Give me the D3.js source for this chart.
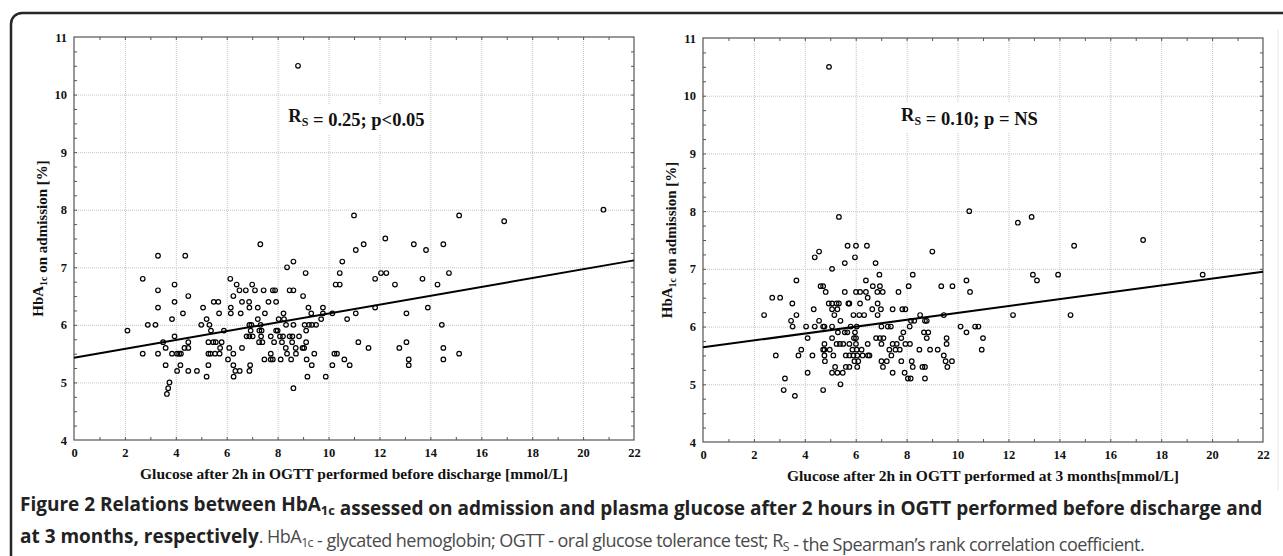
<!DOCTYPE html>
<html>
<head>
<meta charset="utf-8">
<script src="https://cdn.jsdelivr.net/npm/d3@7"></script>
<style>
  body { margin: 0; background: #fff; }
</style>
</head>
<body>
<script>
// [glucose mmol/L, HbA1c %] (OGTT before discharge)
const pointsBefore = [
  [2.1,5.9],[2.7,6.8],[2.7,5.5],[2.9,6.0],[3.2,6.0],[3.3,7.2],[3.3,6.6],[3.3,6.3],[3.3,5.5],[3.5,5.7],
  [3.6,5.6],[3.6,5.3],[3.75,5.0],[3.7,4.9],[3.65,4.8],[3.85,6.1],[3.85,5.5],[3.95,6.7],[3.95,6.4],[3.95,5.8],
  [4.05,5.5],[4.05,5.2],[4.13,5.5],[4.2,5.5],[4.18,5.3],[4.28,6.2],[4.37,7.2],[4.34,5.6],[4.49,5.6],[4.49,5.7],
  [4.49,6.5],[4.49,5.2],[4.83,5.2],[5.0,6.0],[5.07,6.3],[5.21,6.1],[5.21,5.1],[5.28,5.3],[5.28,5.5],[5.28,5.7],
  [5.32,6.0],[5.38,5.9],[5.36,5.5],[5.47,5.7],[5.49,6.4],[5.57,5.7],[5.54,5.5],[5.67,6.4],[5.7,6.2],[5.72,5.5],
  [5.74,5.6],[5.8,5.7],[5.89,5.9],[6.05,5.4],[6.14,6.8],[6.16,6.3],[6.16,6.2],[6.1,5.6],[6.26,6.5],[6.26,5.5],
  [6.26,5.3],[6.27,5.1],[6.34,5.2],[6.39,6.7],[6.5,6.6],[6.51,5.2],[6.55,6.2],[6.6,6.4],[6.6,5.6],[6.75,6.6],
  [6.78,5.8],[6.88,6.4],[6.89,6.3],[6.89,6.0],[6.89,5.8],[6.92,5.3],[6.89,5.2],[6.94,5.9],[6.97,6.0],[7.0,6.7],
  [7.02,5.8],[7.11,6.6],[7.22,6.3],[7.22,6.1],[7.27,5.7],[7.28,5.9],[7.32,7.4],[7.33,6.0],[7.35,5.8],[7.4,5.7],
  [7.37,5.9],[7.45,6.6],[7.48,5.4],[7.5,6.2],[7.64,6.4],[7.73,5.8],[7.73,5.5],[7.73,5.4],[7.81,6.6],[7.81,5.4],
  [7.86,5.7],[7.9,6.6],[7.94,6.4],[7.94,5.9],[8.0,5.9],[8.04,6.1],[8.09,5.8],[8.12,5.4],[8.17,5.7],[8.23,6.2],
  [8.21,5.8],[8.25,6.1],[8.33,6.0],[8.37,7.0],[8.32,5.6],[8.37,5.5],[8.47,6.6],[8.47,5.8],[8.53,5.4],[8.58,5.8],
  [8.62,7.1],[8.62,6.6],[8.62,6.0],[8.62,4.9],[8.57,5.7],[8.71,5.6],[8.72,5.5],[8.84,5.8],[8.8,10.5],[8.98,5.6],
  [9.0,6.5],[9.04,5.6],[9.06,6.0],[9.1,6.9],[9.12,5.9],[9.12,5.7],[9.14,5.4],[9.17,5.1],[9.21,6.3],[9.23,6.0],
  [9.32,6.2],[9.35,6.0],[9.34,5.3],[9.44,5.5],[9.51,6.0],[9.71,6.1],[9.78,6.3],[9.78,6.2],[9.89,5.1],
  [10.15,6.2],[10.15,5.3],[10.23,5.5],[10.33,5.5],[10.28,6.7],[10.44,6.7],[10.44,6.9],[10.54,7.1],[10.62,5.4],
  [10.73,6.1],[10.83,5.3],[11.07,7.3],[11.07,6.2],[11.17,5.7],[11.38,7.4],[11.57,5.6],[11.83,6.8],[11.83,6.3],
  [12.06,6.9],[12.23,7.5],[12.27,6.9],[12.61,6.7],[12.78,5.6],[13.06,5.7],[13.06,6.2],[13.15,5.4],[13.15,5.3],
  [13.35,7.4],[13.69,6.8],[13.83,7.3],[13.9,6.3],[14.28,6.7],[14.45,6.0],[14.51,7.4],[14.51,5.6],[14.51,5.4],
  [14.73,6.9],[15.13,5.5],[11.0,7.9],[15.13,7.9],[16.9,7.8],[20.8,8.0]
];

// [glucose mmol/L, HbA1c %] (OGTT at 3 months)
const pointsThreeMonths = [
  [2.4,6.2],[2.72,6.5],[3.03,6.5],[2.86,5.5],[3.22,5.1],[3.17,4.9],[3.61,4.8],[3.51,6.4],[3.46,6.1],[3.52,6.0],
  [3.67,6.8],[3.67,6.2],[3.75,5.5],[3.86,5.6],[4.05,6.0],[4.11,5.8],[4.11,5.2],[4.3,5.5],[4.35,6.3],[4.39,6.0],
  [4.39,7.2],[4.56,7.3],[4.56,6.1],[4.62,6.7],[4.72,6.7],[4.72,6.0],[4.72,4.9],[4.77,6.0],[4.77,5.7],[4.77,5.6],
  [4.72,5.6],[4.77,5.5],[4.79,5.4],[4.82,6.6],[4.94,6.4],[4.98,5.6],[5.07,7.0],[5.07,6.4],[5.07,6.3],[5.07,6.0],
  [5.07,5.8],[5.07,5.2],[5.12,5.5],[5.16,6.2],[5.19,5.3],[5.28,5.2],[5.25,5.7],[5.28,6.3],[5.25,6.4],[5.3,5.9],
  [5.34,6.4],[5.38,5.7],[5.4,6.1],[5.4,5.0],[5.49,5.2],[5.51,5.7],[5.57,5.9],[5.57,6.6],[5.57,7.1],[5.61,5.5],
  [5.61,5.3],[5.67,5.9],[5.68,7.4],[5.71,6.4],[5.75,6.4],[5.75,5.3],[5.75,5.5],[5.75,5.7],[5.8,6.0],[5.87,5.6],
  [5.91,6.2],[5.91,5.5],[5.93,5.8],[5.95,5.4],[5.97,7.2],[5.97,5.9],[6.01,7.4],[6.01,6.6],[6.01,5.8],[6.01,5.7],
  [6.04,6.0],[6.04,5.6],[6.06,5.5],[6.06,5.3],[6.1,5.4],[6.14,6.2],[6.17,6.6],[6.17,6.4],[6.23,5.6],[6.27,5.5],
  [6.33,6.2],[6.4,6.8],[6.4,6.6],[6.44,7.4],[6.47,6.5],[6.47,5.7],[6.48,5.5],[6.54,5.5],[6.65,6.3],[6.67,6.7],
  [6.78,7.1],[6.8,5.8],[6.85,6.6],[6.86,6.4],[6.86,6.2],[6.93,6.9],[6.95,6.7],[6.95,5.8],[6.99,6.3],[7.01,6.0],
  [7.01,5.7],[7.01,5.4],[7.06,6.6],[7.07,5.3],[7.09,5.8],[7.22,5.4],[7.26,6.0],[7.32,5.6],[7.38,6.0],[7.4,5.5],
  [7.45,5.2],[7.45,6.3],[7.45,5.7],[7.56,5.6],[7.61,5.7],[7.68,6.6],[7.73,5.6],[7.79,5.4],[7.79,5.8],[7.83,6.3],
  [7.87,5.9],[7.95,6.3],[7.92,5.2],[7.95,5.7],[8.05,5.1],[8.08,6.7],[8.12,6.0],[8.13,5.7],[8.16,5.1],[8.17,6.1],
  [8.2,5.4],[8.24,6.9],[8.24,5.3],[8.3,6.1],[8.5,5.6],[8.53,6.2],[8.62,5.3],[8.72,5.3],[8.72,5.1],[8.72,6.1],
  [8.79,6.1],[8.68,5.9],[8.85,5.9],[8.79,5.8],[8.92,5.6],[9.01,7.3],[9.22,5.6],[9.36,6.7],[9.46,5.5],[9.46,6.2],
  [9.53,5.4],[9.57,5.8],[9.57,5.7],[9.6,5.3],[9.78,5.4],[9.8,6.7],[10.12,6.0],[10.35,6.8],[10.35,5.9],[10.49,6.6],
  [10.69,6.0],[10.82,6.0],[11.0,5.8],[10.95,5.6],[12.18,6.2],[12.96,6.9],[13.12,6.8],[13.95,6.9],[14.44,6.2],
  [14.58,7.4],[17.29,7.5],[19.63,6.9],[10.46,8.0],[12.37,7.8],[12.91,7.9],[4.95,10.5],[5.34,7.9]
];

// fitted line, HbA1c read at glucose = 0 and glucose = 22
const fitBefore = [5.43, 7.12];
const fitThreeMonths = [5.64, 6.95];

const xTickLabels = [0, 2, 4, 6, 8, 10, 12, 14, 16, 18, 20, 22];
const yTickLabels = [4, 5, 6, 7, 8, 9, 10, 11];

const W = 1283, H = 556;
const SERIF = '"Liberation Serif", "Times New Roman", serif';
const SANS = '"Open Sans", "Noto Sans", sans-serif';

const svg = d3.select("body").append("svg")
  .attr("width", W)
  .attr("height", H);

// rounded frame around the whole figure
svg.append("rect")
  .attr("x", 11).attr("y", 13)
  .attr("width", 1320).attr("height", 600)
  .attr("rx", 11)
  .attr("fill", "none")
  .attr("stroke", "#262626")
  .attr("stroke-width", 2.5);

// faint edge of the right picture
svg.append("line")
  .attr("x1", 1278).attr("x2", 1278)
  .attr("y1", 30).attr("y2", 490)
  .attr("stroke", "#e4e4e4");

// text with sub-scripted parts
function richText(sel, parts, subSize) {
  parts.forEach(p => {
    if (p.sub) {
      sel.append("tspan").attr("class", "sub").attr("dy", p.shift).attr("font-size", subSize).text(p.t);
      sel.append("tspan").attr("dy", -p.shift).text("");
    } else {
      sel.append("tspan").text(p.t);
    }
  });
}

function drawPanel(p) {
  const x = d3.scaleLinear().domain([0, 22]).range([p.left, p.right]);
  const y = d3.scaleLinear().domain([4, 11]).range([p.bottom, p.top]);
  const w = p.right - p.left, h = p.bottom - p.top;
  const g = svg.append("g");

  // dotted grid
  g.append("g")
    .attr("transform", `translate(0,${p.bottom})`)
    .call(d3.axisBottom(x).tickValues(xTickLabels.slice(1, -1)).tickSize(-h).tickFormat(""))
    .call(a => a.select(".domain").remove())
    .selectAll("line").attr("stroke", "#c4c4c4").attr("stroke-dasharray", "1,1");
  g.append("g")
    .attr("transform", `translate(${p.left},0)`)
    .call(d3.axisLeft(y).tickValues(yTickLabels.slice(1, -1)).tickSize(-w).tickFormat(""))
    .call(a => a.select(".domain").remove())
    .selectAll("line").attr("stroke", "#c4c4c4").attr("stroke-dasharray", "1,1");

  // small inward ticks on all four sides
  const xMinor = d3.range(1, 22, 1);
  const yMinor = d3.range(4.25, 11, 0.25);
  const tickStyle = a => {
    a.select(".domain").remove();
    a.selectAll("line").attr("stroke", "#555");
  };
  g.append("g").attr("transform", `translate(0,${p.bottom})`)
    .call(d3.axisBottom(x).tickValues(xMinor).tickSize(-3).tickFormat("")).call(tickStyle);
  g.append("g").attr("transform", `translate(0,${p.top})`)
    .call(d3.axisTop(x).tickValues(xMinor).tickSize(-3).tickFormat("")).call(tickStyle);
  g.append("g").attr("transform", `translate(${p.left},0)`)
    .call(d3.axisLeft(y).tickValues(yMinor).tickSize(-3).tickFormat("")).call(tickStyle);
  g.append("g").attr("transform", `translate(${p.right},0)`)
    .call(d3.axisRight(y).tickValues(yMinor).tickSize(-3).tickFormat("")).call(tickStyle);

  // frame
  g.append("rect")
    .attr("x", p.left).attr("y", p.top)
    .attr("width", w).attr("height", h)
    .attr("fill", "none")
    .attr("stroke", "#555")
    .attr("stroke-width", 1.2);

  // tick labels
  const labelStyle = a => {
    a.select(".domain").remove();
    a.selectAll("line").remove();
    a.selectAll("text")
      .style("font-family", SERIF)
      .attr("font-weight", "bold")
      .attr("font-size", 12.5)
      .attr("fill", "#111");
  };
  g.append("g").attr("transform", `translate(0,${p.bottom})`)
    .call(d3.axisBottom(x).tickValues(xTickLabels).tickSize(0).tickPadding(8).tickFormat(d3.format("d")))
    .call(labelStyle);
  g.append("g").attr("transform", `translate(${p.left},0)`)
    .call(d3.axisLeft(y).tickValues(yTickLabels).tickSize(0).tickPadding(7).tickFormat(d3.format("d")))
    .call(labelStyle);

  // axis titles
  g.append("text")
    .attr("x", (p.left + p.right) / 2)
    .attr("y", p.xTitleY)
    .attr("text-anchor", "middle")
    .style("font-family", SERIF)
    .attr("font-weight", "bold")
    .attr("font-size", 15.5)
    .attr("fill", "#111")
    .text(p.xTitle);

  const yt = g.append("text")
    .attr("transform", `translate(${p.yTitleX},${(p.top + p.bottom) / 2}) rotate(-90)`)
    .attr("text-anchor", "middle")
    .style("font-family", SERIF)
    .attr("font-weight", "bold")
    .attr("font-size", 15)
    .attr("fill", "#111");
  richText(yt, [{ t: "HbA" }, { t: "1c", sub: true, shift: 4 }, { t: " on admission [%]" }], 10);

  // regression line
  g.append("line")
    .attr("x1", x(0)).attr("y1", y(p.fit[0]))
    .attr("x2", x(22)).attr("y2", y(p.fit[1]))
    .attr("stroke", "#000")
    .attr("stroke-width", 2);

  // open circles
  g.append("g").selectAll("circle")
    .data(p.points)
    .enter()
    .append("circle")
    .attr("cx", d => x(d[0]))
    .attr("cy", d => y(d[1]))
    .attr("r", 2.3)
    .attr("fill", "none")
    .attr("stroke", "#000")
    .attr("stroke-width", 1.2);

  // statistics label on a white patch
  const stat = g.append("text")
    .attr("x", x(p.statAt[0]))
    .attr("y", y(p.statAt[1]))
    .style("font-family", SERIF)
    .attr("font-weight", "bold")
    .attr("font-size", 18.5)
    .attr("fill", "#111");
  richText(stat, [{ t: "R" }, { t: "S", sub: true, shift: 4 }, { t: p.stat }], 12);
  const bb = stat.node().getBBox();
  g.insert("rect", () => stat.node())
    .attr("x", bb.x - 4).attr("y", bb.y - 2)
    .attr("width", bb.width + 8).attr("height", bb.height + 6)
    .attr("fill", "#fff");
}

drawPanel({
  left: 74, right: 634, top: 37, bottom: 440,
  points: pointsBefore,
  fit: fitBefore,
  statAt: [8.42, 9.52],
  stat: " = 0.25; p<0.05",
  xTitle: "Glucose after 2h in OGTT performed before discharge [mmol/L]",
  xTitleY: 479,
  yTitleX: 43
});

drawPanel({
  left: 703, right: 1263, top: 38, bottom: 442,
  points: pointsThreeMonths,
  fit: fitThreeMonths,
  statAt: [7.78, 9.57],
  stat: " = 0.10; p = NS",
  xTitle: "Glucose after 2h in OGTT performed at 3 months[mmol/L]",
  xTitleY: 481,
  yTitleX: 672
});

// figure caption
const cap1 = svg.append("text")
  .attr("x", 20).attr("y", 511)
  .style("font-family", SANS)
  .attr("font-weight", "bold")
  .attr("font-size", 17)
  .attr("fill", "#222");
richText(cap1, [
  { t: "Figure 2 Relations between HbA" },
  { t: "1c", sub: true, shift: 4 },
  { t: " assessed on admission and plasma glucose after 2 hours in OGTT performed before discharge and" }
], 11.5);

// fit the first line to the width of the figure
const capW = cap1.node().getComputedTextLength();
const capSize = 17 * 1243 / capW;
cap1.attr("font-size", capSize);
cap1.selectAll("tspan.sub").attr("font-size", capSize * 0.68);

const cap2 = svg.append("text")
  .attr("x", 20).attr("y", 543)
  .style("font-family", SANS)
  .attr("font-size", capSize)
  .attr("fill", "#222");
cap2.append("tspan").attr("font-weight", "bold").text("at 3 months, respectively");
// the plain part of the caption is set lighter and tighter
const plain = cap2.append("tspan")
  .attr("font-size", capSize * 0.95)
  .attr("letter-spacing", -0.55)
  .attr("fill", "#4a4a4a");
richText(plain, [
  { t: ". HbA" },
  { t: "1c", sub: true, shift: 4 },
  { t: " - glycated hemoglobin; OGTT - oral glucose tolerance test; R" },
  { t: "S", sub: true, shift: 4 },
  { t: " - the Spearman\u2019s rank correlation coefficient." }
], capSize * 0.65);
</script>
</body>
</html>
